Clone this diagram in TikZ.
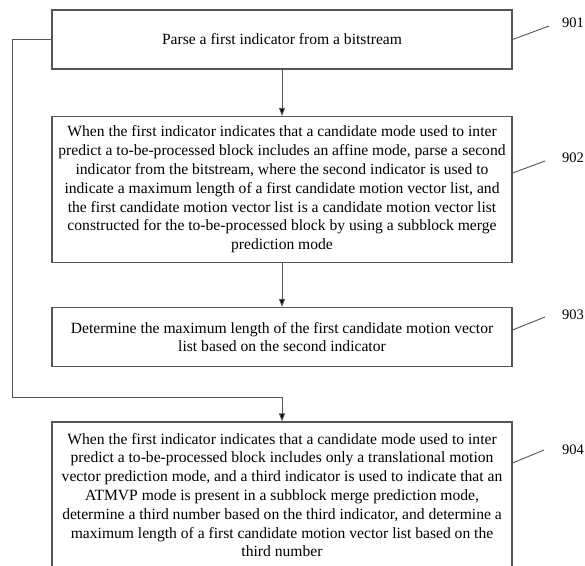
\documentclass[tikz,border=0pt]{standalone}
\usepackage{fontspec}
\setmainfont{Liberation Serif}
\usetikzlibrary{arrows.meta,positioning}

\definecolor{edgegray}{HTML}{555555}

\tikzset{
  x=1pt, y=-1pt,
  stepbox/.style={draw=edgegray, line width=1.1pt, rectangle, minimum width=460pt,
    align=center, inner sep=0pt,
    font=\fontsize{15.6}{18.8}\selectfont},
  flow/.style={draw=edgegray, line width=1pt, -{Triangle[length=8pt,width=6pt,fill=black]}},
  leader/.style={draw=edgegray, line width=0.9pt},
  reflabel/.style={anchor=west, inner sep=0pt, font=\fontsize{14.5}{16}\selectfont},
}

\begin{document}
\begin{tikzpicture}
\useasboundingbox (0,0) rectangle (585,565);

% process steps
\node[stepbox, minimum height=59pt] (b1) at (282,39.5)
  {Parse a first indicator from a bitstream};

\node[stepbox, minimum height=146pt] (b2) at (282,189.5)
  {When the first indicator indicates that a candidate mode used to inter\\
   predict a to-be-processed block includes an affine mode, parse a second\\
   indicator from the bitstream, where the second indicator is used to\\
   indicate a maximum length of a first candidate motion vector list, and\\
   the first candidate motion vector list is a candidate motion vector list\\
   constructed for the to-be-processed block by using a subblock merge\\
   prediction mode};

\node[stepbox, minimum height=59pt] (b3) at (282,337)
  {Determine the maximum length of the first candidate motion vector\\
   list based on the second indicator};

\node[stepbox, minimum height=146pt] (b4) at (282,495)
  {When the first indicator indicates that a candidate mode used to inter\\
   predict a to-be-processed block includes only a translational motion\\
   vector prediction mode, and a third indicator is used to indicate that an\\
   ATMVP mode is present in a subblock merge prediction mode,\\
   determine a third number based on the third indicator, and determine a\\
   maximum length of a first candidate motion vector list based on the\\
   third number};

% step numbers
\node[reflabel] (l1) at (562,23) {901};
\node[reflabel] (l2) at (562,158) {902};
\node[reflabel] (l3) at (562,315) {903};
\node[reflabel] (l4) at (562,450) {904};

% flow arrows
\draw[flow] (b1) -- (b2);
\draw[flow] (b2) -- (b3);
\coordinate (loopcorner) at (12.5,397);
\draw[flow] (b1.west) -| (loopcorner) -| (b4.north);

% leaders to step numbers
\draw[leader] (b1.east) -- ([shift={(-13,3)}]l1.west);
\draw[leader] ([shift={(0,-16.5)}]b2.east) -- ([shift={(-17,3)}]l2.west);
\draw[leader] ([shift={(0,-7)}]b3.east) -- ([shift={(-17,2)}]l3.west);
\draw[leader] ([shift={(0,-32)}]b4.east) -- ([shift={(-18,0)}]l4.west);
\end{tikzpicture}
\end{document}
